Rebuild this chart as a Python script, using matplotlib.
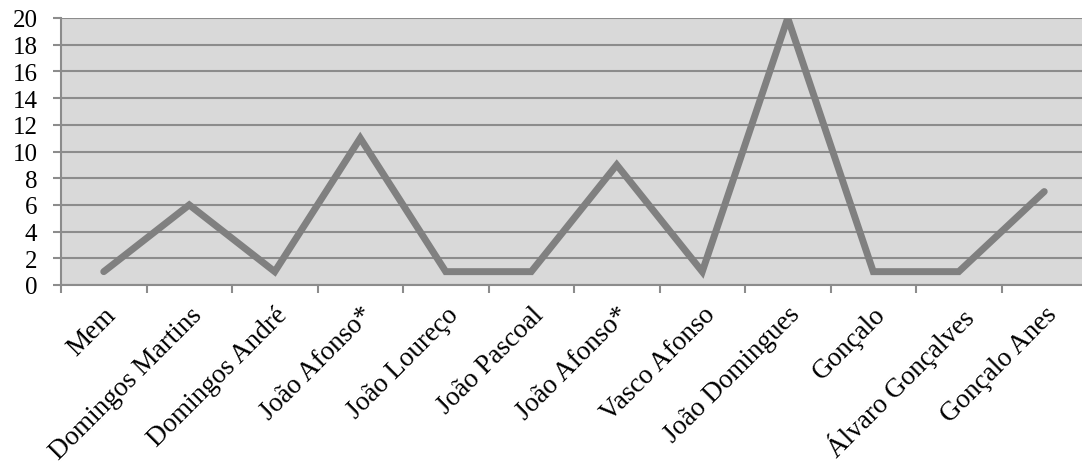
import matplotlib
matplotlib.use('Agg')
import matplotlib.pyplot as plt
import numpy as np

names = ['Mem', 'Domingos Martins', 'Domingos André', 'João Afonso*',
         'João Loureço', 'João Pascoal', 'João Afonso*', 'Vasco Afonso',
         'João Domingues', 'Gonçalo', 'Álvaro Gonçalves', 'Gonçalo Anes']
counts = [1, 6, 1, 11, 1, 1, 9, 1, 20, 1, 1, 7]

plt.rcParams['font.family'] = ['Liberation Serif', 'DejaVu Serif']

grid_col = '#8c8c8c'

fig = plt.figure(figsize=(10.82, 4.64), dpi=100)
ax = fig.add_axes([61 / 1082, 1 - 286 / 464, 1026 / 1082, 267 / 464])
ax.set_facecolor('#d9d9d9')

x = np.arange(len(names)) + 0.5
ax.plot(x, counts, color='#808080', linewidth=5, solid_capstyle='round',
        solid_joinstyle='miter', zorder=3)

ax.set_xlim(0, len(names))
ax.set_ylim(0, 20)
ax.set_yticks(np.arange(0, 21, 2))
ax.yaxis.grid(True, color=grid_col, linewidth=1.5)
ax.set_axisbelow(True)

ax.set_xticks(np.arange(len(names) + 1))
ax.set_xticklabels([])
ax.set_xticks(x, minor=True)
ax.set_xticklabels(names, minor=True, rotation=45, ha='right',
                   rotation_mode='anchor', fontsize=19.5)
ax.tick_params(axis='x', which='minor', length=0, pad=12)
ax.tick_params(axis='x', which='major', length=5.5, width=1.5, color=grid_col)
ax.tick_params(axis='y', length=6, width=1.5, color=grid_col, labelsize=18, pad=11)

for side in ['top', 'right']:
    ax.spines[side].set_visible(False)
for side in ['left', 'bottom']:
    ax.spines[side].set_color(grid_col)
    ax.spines[side].set_linewidth(1.5)

fig.savefig('out.png', dpi=100)
